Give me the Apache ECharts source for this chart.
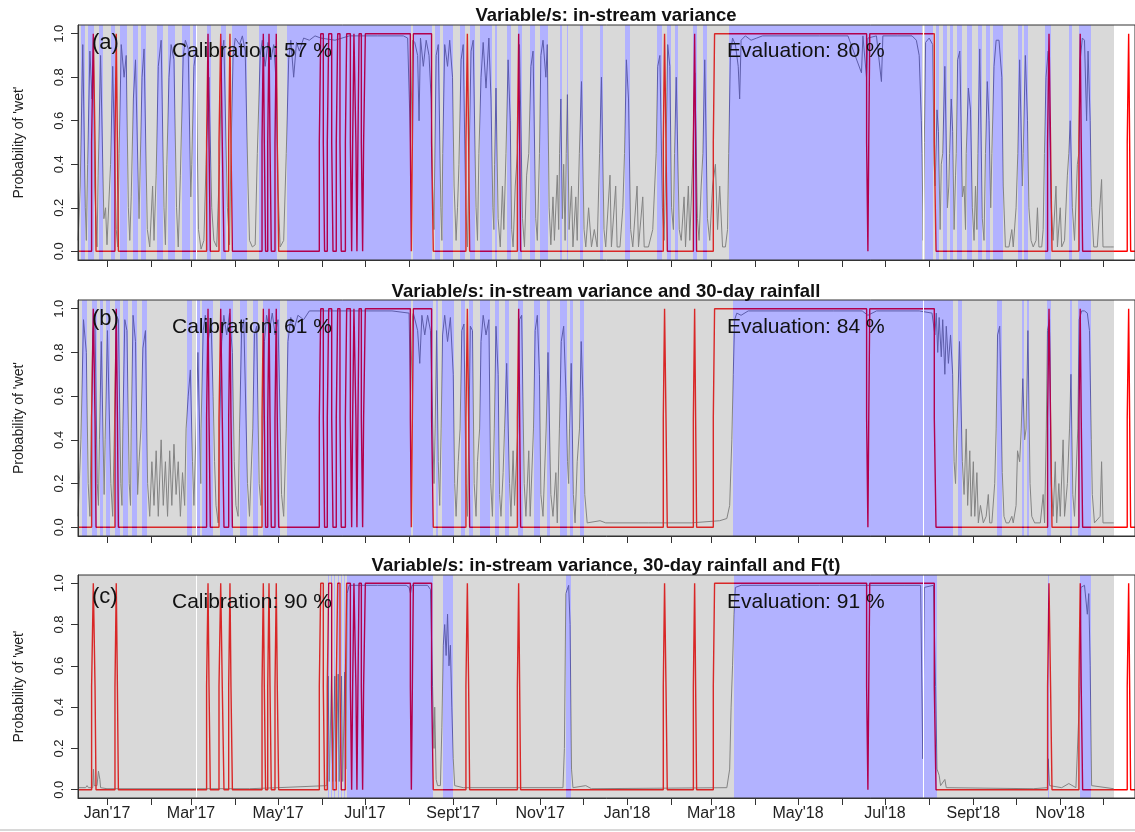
<!DOCTYPE html>
<html><head><meta charset="utf-8">
<script src="https://cdn.jsdelivr.net/npm/echarts@6/dist/echarts.min.js"></script>
<style>html,body{margin:0;padding:0;background:#fff}#c{width:1135px;height:832px}</style>
</head><body><div id="c"></div>
<script>
// ---------- DATA (x values are days since 1 Jan 2017) ----------
const monthStarts = ['2017-01-01','2017-02-01','2017-03-01','2017-04-01','2017-05-01','2017-06-01','2017-07-01','2017-08-01','2017-09-01','2017-10-01','2017-11-01','2017-12-01','2018-01-01','2018-02-01','2018-03-01','2018-04-01','2018-05-01','2018-06-01','2018-07-01','2018-08-01','2018-09-01','2018-10-01','2018-11-01','2018-12-01'];
const labelDates = ['2017-01-01','2017-03-01','2017-05-01','2017-07-01','2017-09-01','2017-11-01','2018-01-01','2018-03-01','2018-05-01','2018-07-01','2018-09-01','2018-11-01'];
const labelTexts = ["Jan'17","Mar'17","May'17","Jul'17","Sept'17","Nov'17","Jan'18","Mar'18","May'18","Jul'18","Sept'18","Nov'18"];
const yTicks = [0, 0.2, 0.4, 0.6, 0.8, 1.0];

const panelTitles = ['Variable/s: in-stream variance', 'Variable/s: in-stream variance and 30-day rainfall', 'Variable/s: in-stream variance, 30-day rainfall and F(t)'];
const panelTags = ['(a)', '(b)', '(c)'];
const calibration = [57, 61, 90];
const evaluation = [80, 84, 91];

const dataRange = [-20.35, 706.6];
const gaps = [[62.2, 62.9], [572.8, 573.5]];

// observed wet/dry (step changes: [day, value])
const observed = [[-20.35,0],[-10.8,0.5],[-9.6,1],[-8.4,0.5],[-7.7,0],[5.6,0.5],[6.5,1],[7.3,0.5],[8.0,0],[69.9,0.5],[70.9,1],[71.6,0.5],[72.5,0],[78.6,0.5],[79.8,1],[80.9,0.5],[82.1,0],[85.4,0.5],[86.3,1],[87.0,0.5],[88.0,0],[108.8,0.5],[109.7,1],[110.4,0.5],[111.3,0],[112.8,0.5],[113.7,1],[114.4,0.5],[115.3,0],[117.9,0.5],[118.8,1],[119.5,0.5],[120.5,0],[149.0,0.5],[150.0,1],[151.8,0.5],[152.7,0],[154.6,0.5],[155.6,1],[157.7,0.5],[158.6,0],[160.9,0.5],[161.9,1],[163.5,0.5],[164.4,0],[167.3,0.5],[168.2,1],[170.8,0.5],[171.7,0],[172.4,0.5],[173.3,1],[174.7,0.5],[175.4,0],[176.1,0.5],[176.9,1],[178.5,0.5],[179.4,0],[180.1,0.5],[181.3,1],[212.9,0.5],[213.6,0],[214.3,0.5],[215.0,1],[227.8,0.5],[229.0,0],[251.9,0.5],[252.9,1],[253.8,0.5],[254.5,0],[288.0,0.5],[288.9,1],[289.6,0.5],[290.3,0],[390.4,0.5],[391.3,1],[392.3,0.5],[393.2,0],[411.5,0.5],[412.4,1],[413.1,0.5],[413.8,0],[425.5,0.5],[426.4,1],[533.1,0.5],[534.0,0],[534.6,0.5],[535.3,1],[580.6,0.5],[581.8,0],[660.1,0.5],[661.1,1],[662.2,0.5],[663.2,0],[682.1,0.5],[683.0,1],[683.7,0.5],[684.7,0],[716.0,0.5],[717.0,1],[717.7,0.5],[718.4,0],[721.45,0]];

// predicted-wet periods (blue shading) per panel: [startDay, endDay]
const wetA = [[-18.0,-15.7],[-13.3,-9.1],[-5.8,-2.8],[3.0,5.8],[8.9,14.3],[18.2,21.8],[24.1,27.6],[35.3,39.3],[42.8,48.0],[52.6,58.0],[60.3,63.4],[70.4,72.8],[79.8,83.7],[87.7,98.5],[106.4,119.5],[126.5,213.2],[214.8,227.8],[230.2,233.7],[236.0,243.0],[247.7,251.2],[254.7,258.3],[261.8,270.0],[272.3,273.9],[280.5,283.3],[288.7,291.0],[296.9,300.3],[303.9,309.7],[317.9,319.1],[322.6,323.7],[331.9,334.3],[346.0,348.3],[363.5,367.0],[385.7,389.2],[392.7,395.6],[398.6,401.0],[411.5,413.8],[418.5,420.8],[436.5,571.7],[574.0,579.9],[581.8,584.1],[586.9,589.2],[591.6,593.9],[596.3,599.8],[603.3,606.8],[611.5,613.8],[616.8,619.7],[621.5,628.5],[639.5,641.9],[643.5,646.5],[658.2,662.2],[675.3,677.0],[682.3,690.3]];
const wetB = [[-17.8,-13.8],[-10.8,-7.3],[-4.9,-2.6],[-0.7,2.1],[5.6,9.1],[11.5,15.0],[17.3,20.8],[24.3,27.8],[55.9,59.4],[62.9,65.3],[66.4,74.6],[79.3,88.6],[93.3,98.0],[102.7,106.2],[109.7,121.4],[126.1,213.1],[215.0,229.0],[230.6,232.0],[234.9,243.5],[248.2,251.5],[254.3,257.1],[261.8,268.8],[272.3,274.9],[279.3,281.9],[288.7,292.2],[299.7,303.9],[308.5,310.9],[317.9,322.6],[324.9,326.8],[331.9,334.7],[439.1,572.8],[573.5,594.0],[597.4,599.8],[624.3,627.8],[641.9,643.5],[645.4,647.3],[659.4,662.2],[675.8,677.2],[681.6,690.3]];
const wetC = [[154.9,155.8],[157.2,158.0],[159.5,160.3],[161.8,162.6],[164.2,165.0],[166.5,167.3],[168.2,229.0],[236.0,243.0],[321.9,325.6],[440.2,572.8],[573.5,582.2],[660.6,661.3],[682.8,690.5]];

// probability of 'wet' per panel: [day, probability]
const probA = [[-20.3,0.05],[-18.8,0.3],[-17,0.95],[-15.2,0.2],[-14.5,0.05],[-13.6,0.4],[-12,0.92],[-10.5,0.7],[-9.5,0.98],[-8.6,0.3],[-7,0.02],[-6.2,0.35],[-4.5,0.9],[-2.2,0.15],[-1,0.2],[0,0.03],[2.5,0.4],[4,0.85],[6.5,0.1],[7.5,0.02],[8.5,0.45],[10,0.95],[12,0.8],[13.5,0.9],[15,0.2],[16,0.05],[17,0.25],[18.5,0.7],[20,0.88],[22.5,0.15],[23,0.3],[24.6,0.8],[26,0.93],[28.3,0.1],[30,0.02],[32,0.3],[33,0.05],[34.5,0.35],[36,0.85],[38,0.97],[40,0.2],[41,0.03],[42,0.4],[43.5,0.8],[45,0.95],[47,0.88],[48.8,0.2],[50,0.02],[51.5,0.35],[53.5,0.9],[55,0.97],[57,0.93],[58.8,0.25],[59.5,0.4],[61,0.85],[62.5,0.92],[64.2,0.1],[66,0.01],[68,0.05],[69.5,0.4],[71.5,0.8],[73.5,0.2],[75,0.05],[77,0.02],[79,0.4],[80.5,0.9],[82,0.97],[84.5,0.2],[86,0.03],[87,0.45],[88.5,0.9],[90,0.98],[93,0.95],[95,0.99],[97,0.92],[99,0.3],[100,0.05],[102,0.02],[104,0.03],[105.5,0.45],[107.5,0.9],[109,0.97],[111,0.85],[113,0.96],[115,0.88],[117,0.95],[119,0.75],[120,0.3],[121.5,0.02],[124,0.05],[125.8,0.45],[127.5,0.88],[129,0.97],[131,0.8],[133,0.96],[135,0.92],[138,0.98],[142,0.97],[146,0.99],[150,0.98],[160,0.97],[170,0.99],[190,0.99],[208,0.99],[211,0.98],[213,0.5],[214.5,0.97],[216,0.96],[218,0.9],[219,0.6],[220,0.98],[222,0.85],[224,0.97],[226,0.9],[227.5,0.7],[228.5,0.3],[229.5,0.1],[229.8,0.3],[231,0.9],[232.5,0.95],[234.3,0.2],[235,0.05],[235.6,0.45],[237,0.95],[239,0.85],[240.5,0.97],[242.5,0.8],[243.6,0.3],[245,0.05],[246,0.2],[247,0.4],[248.5,0.88],[250,0.95],[251.8,0.2],[253,0.02],[254,0.4],[255.5,0.92],[257,0.97],[259,0.2],[260,0.05],[261,0.45],[262.5,0.8],[264,0.96],[266,0.75],[268,0.98],[269.5,0.7],[270.8,0.2],[271.5,0.1],[272,0.4],[273,0.75],[274.5,0.15],[276,0.02],[277.5,0.3],[278.5,0.1],[280,0.45],[281.5,0.88],[283,0.6],[284,0.1],[285,0.02],[286.5,0.3],[288,0.45],[289.5,0.95],[291.6,0.15],[293,0.02],[294.5,0.35],[296,0.45],[297.5,0.85],[299,0.92],[300.9,0.15],[302,0.05],[303.5,0.45],[304.5,0.9],[306,0.97],[308,0.8],[309,0.95],[310.3,0.2],[311.5,0.03],[313,0.25],[314,0.05],[316,0.35],[317,0.1],[317.6,0.45],[318.5,0.7],[319.6,0.15],[320.5,0.4],[321.5,0.05],[322.3,0.45],[323.1,0.72],[324.3,0.1],[326,0.3],[327,0.02],[329,0.25],[330,0.05],[331.5,0.45],[333,0.78],[334.8,0.1],[336,0.02],[338,0.2],[340,0.02],[342,0.1],[344,0.02],[345.7,0.45],[347,0.8],[348.8,0.1],[350,0.02],[353,0.35],[354,0.02],[357,0.3],[358,0.02],[360,0.02],[362,0.2],[363.2,0.45],[364.5,0.88],[366,0.7],[367.5,0.1],[369,0.02],[372,0.3],[373,0.02],[376,0.25],[377,0.02],[380,0.02],[383,0.1],[385.4,0.45],[386.5,0.85],[388,0.9],[389.8,0.2],[391,0.05],[392.3,0.45],[393.5,0.95],[395,0.85],[396.2,0.2],[397.5,0.1],[398.3,0.45],[399.5,0.8],[401.6,0.1],[403,0.05],[405,0.25],[406,0.02],[408,0.3],[409,0.05],[411.2,0.45],[412.5,0.82],[414.4,0.15],[415.5,0.05],[417,0.3],[418.2,0.45],[419.5,0.88],[421.4,0.15],[423,0.05],[425,0.3],[427,0.4],[428.5,0.1],[430,0.3],[432,0.02],[434,0.02],[435.5,0.1],[436.3,0.45],[437.5,0.9],[439,0.98],[441,0.95],[443,0.85],[444,0.7],[445,0.97],[448,0.99],[452,0.97],[456,0.98],[460,0.99],[480,0.99],[500,0.99],[520,0.99],[529.5,0.82],[530.5,0.99],[533,0.8],[534,0.98],[540,0.99],[543.5,0.78],[544.5,0.99],[555,0.99],[565,0.99],[568,0.97],[570,0.9],[571.5,0.6],[572,0.45],[572.8,0.05],[573.6,0.5],[574.5,0.96],[577,0.98],[579.5,0.95],[580.5,0.4],[581.2,0.3],[582.5,0.65],[583.5,0.55],[584.7,0.1],[585.5,0.4],[586.5,0.45],[588,0.85],[589.8,0.2],[590.8,0.3],[591.3,0.45],[592.5,0.7],[593.5,0.55],[594.5,0.1],[595.5,0.35],[596,0.45],[597,0.88],[598.5,0.92],[600.3,0.25],[601.5,0.3],[602.5,0.1],[603,0.45],[604.5,0.75],[606,0.65],[607.3,0.2],[608.5,0.05],[609.5,0.3],[610.5,0.1],[611.2,0.45],[612.5,0.93],[614.3,0.15],[615.5,0.05],[616.5,0.45],[617.8,0.78],[619,0.6],[620.2,0.2],[621,0.45],[622.5,0.85],[624,0.97],[626,0.97],[628,0.8],[629,0.3],[630.5,0.02],[633,0.02],[635,0.1],[636,0.02],[638,0.2],[639.2,0.45],[640.5,0.88],[642.4,0.3],[643,0.45],[644.5,0.9],[646,0.6],[647,0.2],[648.5,0.05],[650,0.02],[652,0.05],[653,0.2],[654,0.02],[656,0.02],[657,0.1],[657.9,0.45],[659,0.8],[660.5,0.92],[662.7,0.2],[664,0.05],[666,0.3],[667,0.02],[669,0.2],[670,0.02],[672,0.05],[674,0.35],[675,0.45],[676,0.6],[677.5,0.2],[679,0.05],[681,0.4],[682,0.45],[683,0.88],[684.5,0.98],[686,0.97],[687.5,0.6],[688.5,0.92],[690,0.6],[691,0.2],[692.5,0.02],[695,0.02],[698,0.33],[699,0.02],[701,0.02],[704,0.02],[706.5,0.02]];

const probB = [[-20.3,0.05],[-18.3,0.4],[-16.5,0.95],[-14.5,0.8],[-13.2,0.2],[-12,0.05],[-11.2,0.4],[-10,0.9],[-8.5,0.97],[-6.8,0.2],[-6,0.1],[-5.3,0.4],[-4,0.85],[-2,0.15],[-1.3,0.4],[0.3,0.9],[2.7,0.2],[4,0.05],[5.2,0.45],[6.5,0.97],[8,0.95],[9.7,0.2],[10.5,0.1],[11.1,0.45],[12.5,0.95],[14,0.9],[15.6,0.2],[16.5,0.1],[17,0.45],[18.3,0.97],[20,0.85],[21.5,0.15],[22.5,0.3],[23.8,0.45],[25.2,0.82],[27,0.9],[28.5,0.2],[30,0.05],[31.5,0.3],[33,0.1],[34.5,0.35],[36,0.05],[38,0.4],[39.5,0.1],[41,0.3],[42.5,0.05],[44,0.35],[45.5,0.1],[47,0.38],[48.5,0.15],[50,0.3],[51.5,0.05],[53,0.25],[54.5,0.1],[55.5,0.45],[57,0.6],[58.5,0.72],[60,0.3],[61,0.1],[62.5,0.45],[63.8,0.8],[65.8,0.2],[66,0.45],[67.5,0.9],[69,0.97],[71,0.85],[73,0.95],[74.5,0.6],[75.5,0.3],[76.5,0.1],[78,0.02],[79,0.45],[80.5,0.85],[82,0.97],[84,0.88],[86,0.98],[88,0.8],[89.3,0.3],[90.5,0.1],[92,0.05],[93,0.45],[94.5,0.9],[96,0.95],[98.6,0.2],[100,0.05],[102.3,0.45],[103.5,0.88],[105,0.92],[106.8,0.2],[108,0.1],[109.3,0.45],[110.5,0.85],[112,0.97],[114,0.9],[116,0.98],[118,0.88],[120,0.95],[121.5,0.5],[122.5,0.15],[124,0.05],[125.8,0.45],[127,0.85],[129,0.96],[131,0.9],[134,0.97],[138,0.95],[142,0.99],[160,0.99],[180,0.99],[200,0.99],[212,0.98],[213,0.6],[214.5,0.97],[215,0.98],[218,0.9],[219.5,0.75],[221,0.97],[223,0.88],[225,0.97],[227,0.9],[228.5,0.5],[229.5,0.2],[230.3,0.45],[231.3,0.9],[232.5,0.3],[233.5,0.1],[234.5,0.45],[235.5,0.88],[237,0.97],[239,0.85],[241,0.96],[243,0.7],[244,0.2],[245,0.05],[246.5,0.3],[247.8,0.45],[249,0.9],[250.5,0.93],[252,0.2],[253,0.05],[254,0.45],[255,0.92],[256.5,0.9],[257.7,0.2],[259,0.05],[260,0.3],[261.5,0.45],[262.5,0.85],[264,0.97],[266,0.88],[268,0.95],[269.3,0.2],[270.5,0.05],[271.8,0.45],[273,0.92],[274.5,0.7],[275.5,0.15],[276.5,0.05],[278,0.25],[279,0.45],[280.5,0.75],[282.5,0.2],[283.5,0.05],[285,0.35],[286,0.1],[288.3,0.45],[289.5,0.95],[291,0.97],[292.8,0.2],[294,0.05],[296,0.35],[297,0.05],[299.3,0.45],[300.5,0.9],[302,0.97],[303.5,0.7],[304.5,0.15],[306,0.05],[308.2,0.45],[309.5,0.8],[311.5,0.15],[313,0.05],[315,0.25],[316,0.02],[317.5,0.45],[318.8,0.85],[320.5,0.92],[322.2,0.6],[323.2,0.3],[324,0.2],[324.6,0.45],[325.8,0.75],[327.3,0.15],[328.5,0.02],[330,0.3],[331.6,0.45],[332.8,0.85],[334,0.6],[335.3,0.15],[337,0.02],[346,0.03],[350,0.02],[380,0.02],[410,0.02],[430,0.03],[435,0.04],[437,0.1],[438.5,0.4],[439.5,0.7],[440.5,0.95],[442,0.98],[445,0.97],[450,0.99],[480,0.99],[510,0.99],[530,0.99],[534,0.97],[540,0.99],[570,0.99],[579,0.98],[581,0.88],[582,0.98],[583,0.8],[584,0.96],[585.5,0.78],[586.5,0.95],[588,0.7],[589,0.92],[590.5,0.75],[592,0.88],[593.5,0.7],[594.5,0.3],[595.5,0.2],[596.5,0.45],[598.3,0.85],[600.3,0.3],[601.5,0.15],[603,0.45],[604,0.1],[605.5,0.35],[606.5,0.05],[608,0.3],[609,0.05],[610.5,0.25],[611.5,0.02],[613,0.1],[615,0.02],[617,0.05],[618.5,0.15],[619.5,0.02],[621,0.02],[623,0.2],[624,0.45],[625,0.88],[626.5,0.92],[628.3,0.25],[629.5,0.05],[631,0.02],[633,0.02],[635,0.05],[636,0.02],[638,0.1],[639,0.35],[640.5,0.3],[641.6,0.45],[642.7,0.68],[644,0.4],[645,0.45],[646.3,0.9],[647.8,0.2],[649,0.05],[651,0.02],[655,0.02],[657,0.15],[658,0.02],[659.2,0.45],[660,0.9],[661.5,0.95],[662.7,0.2],[664,0.05],[665.5,0.3],[666.5,0.02],[668,0.2],[669,0.05],[671,0.4],[672,0.05],[674,0.2],[675.5,0.45],[676.5,0.7],[677.8,0.15],[679,0.05],[681.3,0.45],[682.3,0.95],[684,0.99],[686,0.99],[688,0.98],[689.5,0.9],[690.8,0.4],[691.5,0.15],[693,0.02],[697,0.05],[698,0.3],[699,0.02],[706.5,0.02]];

const probC = [[-20.3,0.01],[-15,0.01],[-14,0.02],[-13,0.01],[-10,0.01],[-9.5,0.1],[-9,0.02],[-7,0.02],[-6,0.09],[-5,0.05],[-4.5,0.01],[0,0.005],[100,0.005],[120,0.01],[154.3,0.02],[155.2,0.55],[156,0.04],[157.6,0.56],[158.4,0.04],[159.9,0.55],[160.7,0.04],[162.2,0.56],[163,0.04],[164.6,0.55],[165.4,0.04],[166.9,0.57],[167.6,0.1],[168.5,0.95],[170,0.99],[190,0.99],[210,0.99],[212,0.98],[213,0.95],[214,0.99],[225,0.99],[227,0.97],[228.5,0.5],[229.5,0.2],[230,0.4],[231,0.05],[232,0.02],[234,0.02],[235,0.3],[236,0.7],[237,0.8],[238,0.65],[239,0.85],[240,0.6],[241,0.7],[242,0.4],[243,0.15],[244,0.02],[250,0.01],[320,0.01],[321,0.2],[322,0.95],[324,0.99],[325,0.8],[326,0.1],[327,0.01],[336,0.02],[340,0.005],[435,0.01],[437,0.1],[438,0.4],[439,0.6],[440,0.85],[441,0.98],[445,0.99],[500,0.99],[560,0.99],[571,0.99],[572.5,0.15],[573.6,0.98],[580,0.99],[581.5,0.5],[582.5,0.1],[584,0.07],[585,0.02],[588,0.05],[589,0.01],[650,0.005],[660,0.01],[660.5,0.15],[661.5,0.02],[670,0.01],[675,0.03],[680,0.01],[682.8,0.5],[683.5,0.98],[686,0.99],[688,0.85],[689,0.95],[690,0.6],[691,0.02],[706.5,0.005]];

// ---------- BUILD ----------
const DAY0 = Date.UTC(2017, 0, 1);
const toDay = s => (Date.parse(s + 'T00:00:00Z') - DAY0) / 86400000;
const tickDays = monthStarts.map(toDay);
const labelDays = labelDates.map(toDay);
const X_MIN = -20.35, X_MAX = 721.45, Y_MIN = -0.04, Y_MAX = 1.04;
const FONT = '"Liberation Sans", Arial, sans-serif';
const FILLS = ['rgba(128,128,128,0.3)', 'rgba(0,0,255,0.3)', '#ffffff'];

function overlayItems(wet) {
  const all = wet.concat(gaps).slice().sort((a, b) => a[0] - b[0]);
  const items = [];
  let cur = dataRange[0];
  for (const [s, e] of all) { if (s > cur) items.push([cur, s, 0]); cur = Math.max(cur, e); }
  if (cur < dataRange[1]) items.push([cur, dataRange[1], 0]);
  wet.forEach(([s, e]) => items.push([Math.max(s, dataRange[0]), Math.min(e, dataRange[1]), 1]));
  gaps.forEach(([s, e]) => items.push([s, e, 2]));
  return items;
}
function renderRect(params, api) {
  const s = api.value(0), e = api.value(1), k = api.value(2);
  const a = api.coord([s, Y_MAX]), b = api.coord([e, Y_MIN]);
  const cs = params.coordSys;
  const x0 = Math.round(a[0]), x1 = Math.round(b[0]);
  return { type: 'rect', shape: { x: x0, y: cs.y, width: Math.max(x1 - x0, 1), height: cs.height }, style: { fill: FILLS[k] } };
}

const grids = [
  { left: 78, right: 0, top: 25, height: 235 },
  { left: 78, right: 0, top: 300, height: 236 },
  { left: 78, right: 0, top: 575, height: 223 }
].map(g => Object.assign(g, { show: true, z: 10, borderColor: '#333', borderWidth: 1, backgroundColor: 'transparent' }));

const xAxes = [0, 1, 2].map(i => ({
  type: 'value', gridIndex: i, min: X_MIN, max: X_MAX, z: 10, position: 'bottom',
  axisLine: { show: true, onZero: false, lineStyle: { color: '#333' } },
  axisTick: { show: true, customValues: tickDays, length: 7, lineStyle: { color: '#333' } },
  axisLabel: { show: i === 2, customValues: labelDays, margin: 8, fontSize: 16, color: '#222', fontFamily: FONT,
    formatter: v => { const j = labelDays.findIndex(d => Math.abs(d - v) < 0.01); return j >= 0 ? labelTexts[j] : ''; } },
  splitLine: { show: false }
}));
const yAxes = [0, 1, 2].map(i => ({
  type: 'value', gridIndex: i, min: Y_MIN, max: Y_MAX, z: 10, position: 'left',
  name: "Probability of 'wet'", nameLocation: 'middle', nameGap: 52, nameRotate: 90,
  nameTextStyle: { fontSize: 14, color: '#222', fontFamily: FONT },
  axisLine: { show: true, onZero: false, lineStyle: { color: '#333' } },
  axisTick: { show: true, customValues: yTicks, length: 7, lineStyle: { color: '#333' } },
  axisLabel: { customValues: yTicks, rotate: 90, margin: 12, fontSize: 13, color: '#222', fontFamily: FONT, formatter: v => v.toFixed(1) },
  splitLine: { show: false }
}));

const probs = [probA, probB, probC];
const wets = [wetA, wetB, wetC];
const series = [];
[0, 1, 2].forEach(i => {
  series.push({ type: 'line', xAxisIndex: i, yAxisIndex: i, data: probs[i], showSymbol: false, silent: true, z: 2,
    lineStyle: { color: '#858585', width: 1 }, clip: true });
  series.push({ type: 'line', xAxisIndex: i, yAxisIndex: i, data: observed, step: 'end', showSymbol: false, silent: true, z: 3,
    lineStyle: { color: '#ff0000', width: 1.4 }, clip: true });
  series.push({ type: 'custom', xAxisIndex: i, yAxisIndex: i, data: overlayItems(wets[i]), renderItem: renderRect,
    encode: { x: [0, 1], y: 2 }, z: 4, silent: true, clip: true });
});

const titleY = [16, 292, 566];
const tagY = [43, 319, 597];
const annY = [51, 327, 602];
const graphic = [];
[0, 1, 2].forEach(i => {
  graphic.push({ type: 'text', x: 606, y: titleY[i], z: 100,
    style: { text: panelTitles[i], font: 'bold 18.5px ' + FONT, fill: '#111', align: 'center', verticalAlign: 'middle', textAlign: 'center', textVerticalAlign: 'middle' } });
  graphic.push({ type: 'text', x: 92, y: tagY[i], z: 100,
    style: { text: panelTags[i], font: '22px ' + FONT, fill: '#111', align: 'left', verticalAlign: 'middle', textAlign: 'left', textVerticalAlign: 'middle' } });
  graphic.push({ type: 'text', x: 172, y: annY[i], z: 100,
    style: { text: 'Calibration: ' + calibration[i] + ' %', font: '21px ' + FONT, fill: '#111', align: 'left', verticalAlign: 'middle', textAlign: 'left', textVerticalAlign: 'middle' } });
  graphic.push({ type: 'text', x: 727, y: annY[i], z: 100,
    style: { text: 'Evaluation: ' + evaluation[i] + ' %', font: '21px ' + FONT, fill: '#111', align: 'left', verticalAlign: 'middle', textAlign: 'left', textVerticalAlign: 'middle' } });
});
graphic.push({ type: 'rect', shape: { x: 0, y: 829, width: 1135, height: 2 }, style: { fill: '#d8d8d8' }, z: 100 });

const chart = echarts.init(document.getElementById('c'), null, { renderer: 'canvas' });
chart.setOption({ animation: false, backgroundColor: '#fff', grid: grids, xAxis: xAxes, yAxis: yAxes, series, graphic });
</script></body></html>
